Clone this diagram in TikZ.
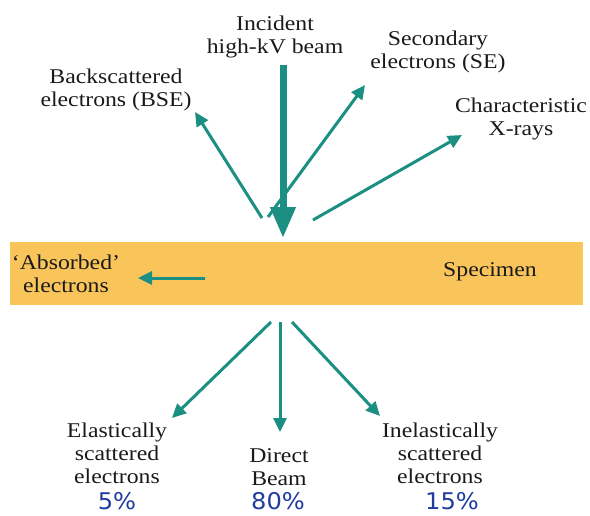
\documentclass[tikz,border=0pt]{standalone}
\usepackage{fontspec}
\setmainfont[FakeStretch=1.13]{Liberation Serif}
\newfontfamily\pctfont[FakeStretch=1.05]{DejaVu Sans}
\usetikzlibrary{arrows.meta}
\definecolor{tealA}{HTML}{1A8F82}
\definecolor{barC}{HTML}{F9C55B}
\definecolor{pctC}{HTML}{1F3C9E}
\definecolor{txtC}{HTML}{1A1A1A}
\begin{document}
\begin{tikzpicture}[x=1pt,y=-1pt,
  lbl/.style={align=center, font=\fontsize{21}{23}\selectfont, text=txtC, inner sep=0pt},
  pctlbl/.style={font=\pctfont\fontsize{23}{25}\selectfont, text=pctC, inner sep=0pt},
  thinarrow/.style={draw=tealA, line width=3pt, -{Triangle[length=14pt,width=13pt]}},
  thickarrow/.style={draw=tealA, line width=7pt, -{Triangle[length=31pt,width=24pt]}}]
\useasboundingbox (0,0) rectangle (590,515);
\fill[white] (0,0) rectangle (590,515);
% specimen bar
\node[fill=barC, minimum width=573pt, minimum height=63pt, inner sep=0pt] (spec) at (296.5,273.5) {};
% labels
\node[lbl] (inc) at (275,37) {Incident\\high-kV beam};
\node[lbl] (se) at (438,52) {Secondary\\electrons (SE)};
\node[lbl] (bse) at (116,90) {Backscattered\\electrons (BSE)};
\node[lbl] (xr) at (521,119) {Characteristic\\X-rays};
\node[lbl] (abs) at (66,274) {`Absorbed'\\electrons};
\node[lbl] (specl) at (490,272) {Specimen};
\node[lbl] (el) at (117,453) {Elastically\\scattered\\electrons};
\node[lbl] (dir) at (279,467) {Direct\\Beam};
\node[lbl] (inel) at (440,453) {Inelastically\\scattered\\electrons};
\node[pctlbl] (p5) at (117,501) {5\%};
\node[pctlbl] (p80) at (278,501) {80\%};
\node[pctlbl] (p15) at (452,501) {15\%};
% arrow end points
\coordinate (incS) at (283,65);
\coordinate (incE) at (283,238);
\coordinate (bseS) at (262,218);
\coordinate (bseE) at (195,112);
\coordinate (seS) at (268,217);
\coordinate (seE) at (365,85);
\coordinate (xrS) at (313,220);
\coordinate (xrE) at (462,135);
\coordinate (absS) at (205,278);
\coordinate (absE) at (138,278);
\coordinate (elS) at (271,322);
\coordinate (elE) at (172,418);
\coordinate (dirS) at (280,322);
\coordinate (dirE) at (280,432);
\coordinate (inelS) at (292,322);
\coordinate (inelE) at (380,416);
% arrows
\draw[thickarrow] (incS) -- (incE);
\draw[thinarrow] (bseS) -- (bseE);
\draw[thinarrow] (seS) -- (seE);
\draw[thinarrow] (xrS) -- (xrE);
\draw[thinarrow] (absS) -- (absE);
\draw[thinarrow] (elS) -- (elE);
\draw[thinarrow] (dirS) -- (dirE);
\draw[thinarrow] (inelS) -- (inelE);
\end{tikzpicture}
\end{document}
